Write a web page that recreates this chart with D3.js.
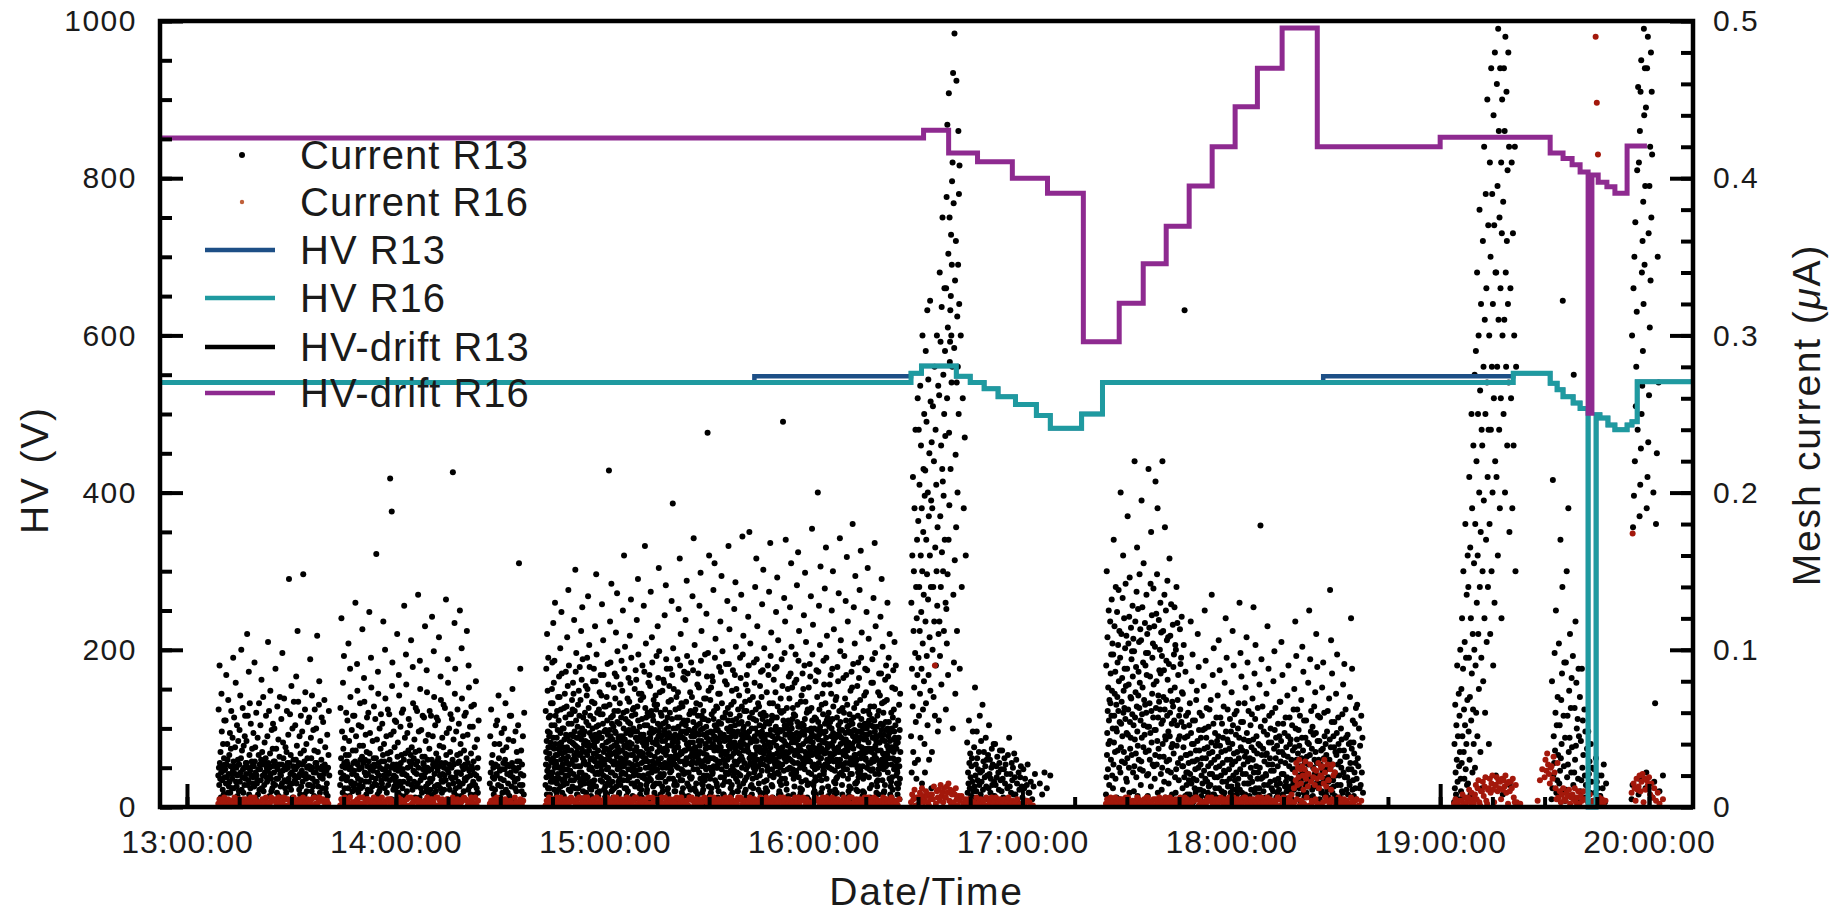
<!DOCTYPE html>
<html>
<head>
<meta charset="utf-8">
<script src="https://cdn.jsdelivr.net/npm/d3@7"></script>
<style>
body { margin: 0; background: #fff; }
text { font-family: "Liberation Sans", Arial, sans-serif; fill: #1a1a1a; }
</style>
</head>
<body>
<script>
var svgWidth = 1833;
var svgHeight = 912;
var plotLeft = 160, plotRight = 1693, plotTop = 21, plotBottom = 807;
var parseTime = d3.timeParse("%H:%M:%S");

var timeStart = "12:52:15";
var timeEnd = "20:12:38";
var hourTicks = ["13:00:00", "14:00:00", "15:00:00", "16:00:00", "17:00:00", "18:00:00", "19:00:00", "20:00:00"];
var hvTicks = [0, 200, 400, 600, 800, 1000];
var currentTicks = [0, 0.1, 0.2, 0.3, 0.4, 0.5];
var legendLabels = ["Current R13", "Current R16", "HV R13", "HV R16", "HV-drift R13", "HV-drift R16"];

// HV-drift R16, step changes [time, V]
var hvDriftR16 = [
  ["12:52:15", 851], ["16:31:36", 861], ["16:38:48", 832], ["16:47:06", 821], ["16:57:06", 800],
  ["17:07:12", 781], ["17:17:30", 592], ["17:27:48", 641], ["17:34:42", 691], ["17:41:18", 739],
  ["17:47:54", 790], ["17:54:30", 840], ["18:01:06", 891], ["18:07:30", 940], ["18:14:36", 991],
  ["18:24:42", 840], ["19:00:00", 852], ["19:31:36", 832], ["19:35:18", 825], ["19:37:54", 817],
  ["19:40:12", 808], ["19:42:30", 501], ["19:43:36", 804], ["19:45:24", 795], ["19:47:54", 789],
  ["19:50:12", 781], ["19:53:42", 841], ["19:59:24", 841]
];

// HV R16
var hvR16 = [
  ["12:52:15", 540], ["16:28:00", 552], ["16:31:00", 561], ["16:41:00", 548], ["16:45:00", 540],
  ["16:49:00", 532], ["16:53:00", 522], ["16:58:00", 512], ["17:04:00", 498], ["17:08:00", 482],
  ["17:17:00", 500], ["17:23:00", 540], ["19:21:00", 552], ["19:31:36", 539], ["19:33:36", 531],
  ["19:35:18", 522], ["19:38:12", 514], ["19:40:12", 507], ["19:42:30", 0], ["19:44:48", 499],
  ["19:45:54", 495], ["19:48:12", 486], ["19:50:12", 480], ["19:53:42", 486], ["19:55:06", 490],
  ["19:56:36", 541], ["20:12:38", 541]
];

// HV R13
var hvR13 = [
  ["12:52:15", 540], ["15:43:00", 548], ["16:28:00", 552], ["16:31:00", 561], ["16:41:00", 548],
  ["16:45:00", 540], ["16:49:00", 532], ["16:53:00", 522], ["16:58:00", 512], ["17:04:00", 498],
  ["17:08:00", 482], ["17:17:00", 500], ["17:23:00", 540], ["18:26:24", 548], ["19:21:00", 552],
  ["19:31:36", 539], ["19:33:36", 531], ["19:35:18", 522], ["19:38:12", 514], ["19:40:12", 507],
  ["19:42:30", 0], ["19:44:48", 499], ["19:45:54", 495], ["19:48:12", 486], ["19:50:12", 480],
  ["19:53:42", 486], ["19:55:06", 490], ["19:56:36", 541], ["20:12:38", 541]
];

// mesh current readings in nA, one row = 2 minutes of readings starting at HH:MM
var rowMinutes = 2;
var currentR13Rows = [
  "13:09 20 62 25 14 90 28 18 35 6 22 72 48 17 26 11 40 23 8 31 55 19 27",
  "13:11 24 55 15 84 27 19 40 30 9 68 21 13 33 16 47 9 26 37 61 21 12",
  "13:13 18 44 23 95 29 12 57 26 4 38 21 79 16 25 13 52 20 7 30 42 27 10",
  "13:15 27 49 16 71 22 31 100 11 36 19 63 24 9 39 25 14 45 58 18 28",
  "13:17 21 42 28 110 14 58 25 17 86 8 33 66 23 12 53 20 6 29 37 26 15",
  "13:19 19 47 26 13 92 29 38 22 5 60 20 15 17 44 8 24 33 66 11 27",
  "13:21 24 52 17 30 81 12 35 27 20 70 10 28 14 41 22 5 31 58 19 25",
  "13:23 16 45 23 105 28 19 61 25 7 34 74 21 18 10 49 26 12 37 53 15 29",
  "13:25 22 50 29 14 88 26 37 18 9 64 24 18 43 7 27 32 70 21 13",
  "13:27 20 56 27 15 98 23 41 31 6 69 17 26 12 38 24 9 35 61 16 28",
  "13:29 25 46 18 145 28 13 59 21 33 11 77 22 15 50 6 26 30 67 20 24",
  "13:31 17 52 24 30 83 15 39 26 112 4 67 19 28 11 45 21 8 34 58 13 27",
  "13:33 23 48 16 27 148 20 36 29 8 62 73 21 18 40 10 25 31 54 14 26",
  "13:35 19 57 26 14 94 24 44 31 10 71 25 18 13 49 22 7 36 62 16 28",
  "13:37 22 50 28 16 109 25 35 13 6 65 80 20 9 42 19 24 30 57 12 26",
  "13:39 18 54 24 21 68 27 38 12 9 23 15 46 7 25 33 61 20",
  "13:44 14 63 22 31 120 18 48 26 9 79 37 20 96 28 12 44 25 7 33 60 17 29",
  "13:46 19 55 27 12 104 33 42 24 7 88 70 25 16 15 49 21 10 36 58 28 13",
  "13:48 23 58 15 29 130 36 45 20 11 91 74 27 18 9 52 24 14 39 66 30 12",
  "13:50 17 51 25 32 113 13 39 28 6 82 67 22 30 16 46 20 8 35 57 26 11",
  "13:52 21 60 29 16 124 34 47 24 10 95 76 19 26 13 42 23 5 31 64 27 15",
  "13:54 26 56 18 31 161 14 43 22 8 86 72 28 20 10 50 25 12 37 59 17 29",
  "13:56 15 53 24 33 118 20 40 29 12 100 69 23 18 45 9 26 34 62 14 21",
  "13:58 22 59 30 17 209 35 46 25 5 188 77 92 18 27 11 48 20 13 38 55 24 16",
  "14:00 19 54 27 13 110 32 41 23 9 84 71 26 16 14 51 28 7 33 60 21 12",
  "14:02 24 62 16 30 128 21 44 34 7 97 78 20 10 47 25 15 36 56 18 29",
  "14:04 18 52 26 33 106 14 38 28 11 89 66 23 31 16 43 22 6 35 63 27 13",
  "14:06 21 61 29 15 135 25 48 36 6 93 75 17 12 49 20 9 32 58 24 28",
  "14:08 27 57 19 32 115 22 42 13 10 87 73 25 30 15 46 23 8 37 61 18 11",
  "14:10 16 58 24 30 121 18 45 27 8 99 70 21 13 52 26 10 34 57 29 14",
  "14:12 23 55 31 14 108 26 39 20 12 83 68 28 17 9 44 21 16 38 65 25 11",
  "14:14 20 63 28 17 132 33 47 24 5 94 79 22 14 50 27 11 35 59 19 26",
  "14:16 25 56 18 30 213 15 43 27 9 117 72 88 19 12 48 22 7 33 62 28 16",
  "14:18 22 53 29 13 125 34 40 21 7 101 69 26 15 45 24 10 36 58 18 27",
  "14:20 17 60 25 31 112 19 46 28 11 90 76 23 13 51 20 8 34 64 26 14",
  "14:22 24 51 16 29 65 21 38 14 8 80 20 12 43 25 9 31 55 18",
  "14:27 15 45 22 62 28 12 33 19 25 8 18 40 11 27 52 21",
  "14:29 20 55 26 14 71 31 40 23 6 18 13 47 24 9 36 28",
  "14:31 17 50 24 30 66 11 38 27 21 9 15 43 26 7 58 20",
  "14:33 22 58 13 28 75 19 42 25 5 16 12 48 23 10 35 29",
  "14:35 18 52 25 155 29 14 88 21 36 10 27 14 45 20 8 60",
  "14:43 14 61 27 35 88 19 42 8 110 23 31 74 48 12 95 38 26 57 21 45 34 12 47 8 58 22 41 16 66 29 3 52 19 75 38 92",
  "14:45 22 66 31 16 117 44 28 79 37 11 93 52 25 130 40 18 58 33 29 6 27 9 44 15 61 33 6 49 21 70 37 11 55 25 83 40",
  "14:47 18 70 36 25 101 47 13 62 30 41 124 22 85 34 9 50 27 38 16 31 14 50 7 63 24 43 18 72 35 4 57 20 86 46 28",
  "14:49 29 64 15 38 108 24 45 77 32 20 138 53 11 90 36 27 59 42 23 5 23 10 46 17 59 36 5 53 28 68 41 13 62 30 79 45",
  "14:51 21 72 40 17 119 33 48 61 26 12 151 39 86 30 55 98 19 44 35 8 38 8 51 19 65 26 44 12 74 33 6 58 22 89 47 16",
  "14:53 26 68 34 14 112 43 22 81 37 50 127 18 94 31 10 57 46 28 20 40 29 15 48 6 60 35 42 20 77 27 9 54 18 71 39 95",
  "14:55 33 75 19 41 134 27 52 63 15 36 103 24 89 47 12 58 30 39 25 7 25 11 45 16 67 31 5 50 23 80 43 14 56 34 88 40",
  "14:57 17 66 38 29 115 46 21 80 34 13 148 51 97 26 42 60 32 9 22 44 36 7 52 21 62 28 47 10 73 32 3 59 17 84 44 26",
  "14:59 31 71 23 44 129 16 39 59 28 53 106 20 84 35 11 64 48 27 37 6 30 13 49 9 64 37 41 19 70 24 8 55 15 91 46 33",
  "15:01 25 78 42 18 214 36 30 65 49 14 118 33 92 45 22 57 38 142 10 29 53 22 16 43 11 58 34 6 51 27 76 39 12 61 29 85 48",
  "15:03 20 69 35 47 111 27 13 83 41 32 136 54 99 24 38 61 16 44 28 8 35 9 53 18 66 25 45 14 78 31 4 57 21 93 42 27",
  "15:05 36 74 22 45 125 30 17 60 50 26 160 39 88 12 43 102 34 21 56 31 28 12 47 7 61 38 40 17 69 33 10 54 24 82 49 19",
  "15:07 28 67 41 19 109 37 53 79 24 46 132 33 95 15 40 58 27 49 23 7 62 33 15 50 20 63 26 5 48 22 75 36 13 59 30 87 44",
  "15:09 23 81 38 31 119 48 16 64 42 27 145 55 97 35 20 72 44 12 33 51 24 8 44 14 68 35 46 11 72 28 6 56 19 90 41 32",
  "15:11 34 70 20 46 128 29 39 86 52 18 166 43 63 31 25 104 57 14 40 9 37 11 52 16 60 29 43 21 79 34 3 58 25 84 47 18",
  "15:13 26 77 44 33 137 17 50 61 37 22 108 47 92 29 41 58 13 55 24 68 26 14 48 9 65 32 7 49 23 71 40 15 62 28 96 43",
  "15:15 40 65 24 35 115 53 19 82 45 30 152 48 99 15 38 73 27 51 21 8 60 31 6 45 19 58 36 42 13 74 25 10 53 20 81 46 35",
  "15:17 21 79 37 49 122 28 42 62 16 54 141 33 94 25 46 88 36 11 44 57 39 12 51 8 67 27 47 18 77 30 5 60 22 88 44 24",
  "15:19 32 68 45 23 131 39 56 84 27 41 193 18 101 50 30 75 43 14 36 10 27 16 46 10 62 33 4 50 26 70 38 14 57 31 94 41",
  "15:21 25 73 38 51 126 20 44 63 33 57 158 29 90 46 17 110 35 48 24 66 34 9 53 17 64 23 44 12 82 29 7 55 21 86 48 36",
  "15:23 43 81 27 36 119 52 22 67 47 31 144 40 96 15 55 85 28 39 49 7 22 13 49 6 59 37 41 19 73 32 11 61 18 92 45 27",
  "15:25 19 70 34 48 134 29 41 87 54 24 171 37 60 45 12 103 50 32 38 62 36 10 47 15 66 28 5 52 24 78 35 8 58 33 85 42",
  "15:27 30 76 46 22 128 39 53 65 35 18 149 49 93 27 42 112 58 15 26 9 56 29 14 50 11 61 34 46 20 69 26 3 56 17 97 40 30",
  "15:29 37 69 24 51 123 33 44 83 20 47 238 29 98 55 38 74 13 42 160 31 25 7 43 18 68 31 48 9 76 38 12 59 23 83 47 21",
  "15:31 22 80 40 31 138 56 26 61 45 36 155 52 95 17 43 107 30 49 25 64 38 15 52 13 63 25 6 49 28 72 36 10 54 29 89 44",
  "15:33 41 72 28 47 118 19 38 86 53 33 147 24 66 46 35 99 57 14 44 8 30 8 46 19 57 35 42 16 80 27 4 60 22 91 43 33",
  "15:35 26 78 35 50 131 30 44 63 21 55 166 39 91 48 16 113 32 42 37 59 23 12 51 7 65 32 45 14 74 39 9 55 26 87 48 20",
  "15:37 34 67 47 23 126 41 29 84 52 37 143 45 102 18 56 75 27 39 22 10 35 16 48 10 62 29 5 53 21 71 34 13 58 30 95 41",
  "15:39 20 82 38 46 135 32 54 64 25 43 172 30 97 49 15 109 36 51 40 61 28 9 44 17 67 36 47 11 78 24 6 61 19 84 46 37",
  "15:41 39 74 26 53 121 35 44 90 21 48 175 31 68 57 28 104 41 13 33 7 33 14 50 8 60 27 43 18 70 31 12 56 25 92 42 22",
  "15:43 28 79 45 33 140 50 24 62 38 55 158 19 94 42 36 115 47 30 26 66 26 11 47 15 64 38 4 52 20 77 35 9 59 28 86 45",
  "15:45 36 70 23 48 129 31 56 87 42 27 151 51 60 34 16 101 45 39 43 9 37 7 53 12 58 30 46 17 73 26 10 54 23 90 40 32",
  "15:47 24 84 41 35 137 53 29 66 46 20 168 38 96 49 32 111 55 14 30 58 24 13 45 6 66 33 41 19 81 29 5 57 21 88 49 27",
  "15:49 43 73 30 51 124 26 39 89 57 34 146 47 64 22 44 106 28 37 21 8 32 10 49 16 61 25 48 8 69 37 14 60 18 94 43 35",
  "15:51 27 77 38 49 245 33 55 61 23 42 133 31 98 52 18 118 46 40 170 35 29 15 52 11 63 34 6 50 24 75 39 7 55 31 83 46",
  "15:53 35 69 48 25 127 44 30 85 53 37 155 21 102 50 41 76 29 56 24 63 36 8 46 18 59 28 44 13 79 33 3 58 20 97 41 23",
  "15:55 22 81 36 47 141 34 54 65 28 43 162 51 93 19 39 112 32 45 38 7 25 12 51 9 67 36 47 16 71 27 11 53 26 85 48 30",
  "15:57 40 75 27 52 122 31 46 90 24 56 149 35 67 49 17 105 42 33 29 60 34 6 43 14 62 31 5 49 22 76 38 15 61 29 91 42",
  "15:59 29 83 44 36 134 50 21 63 47 33 177 55 97 26 41 116 38 14 45 9 27 16 50 10 57 24 45 19 80 35 8 56 17 87 44 33",
  "16:01 37 70 25 49 200 32 54 86 43 28 128 46 62 39 20 103 51 35 153 31 31 9 48 17 65 37 42 12 72 26 4 59 23 93 47 21",
  "16:03 23 78 41 34 139 53 27 66 48 36 165 44 95 18 55 109 30 40 26 57 38 13 53 7 60 29 6 51 25 78 34 10 54 32 84 40",
  "16:05 45 72 31 50 125 24 39 88 56 33 150 47 64 29 42 113 16 37 34 8 23 11 44 15 68 35 46 18 70 30 9 57 19 89 45 28",
  "16:07 26 80 38 52 136 35 46 61 21 49 171 30 99 54 40 106 27 44 22 62 35 14 49 8 63 26 41 20 82 33 5 60 24 96 43 36",
  "16:09 34 69 47 28 131 43 55 84 32 39 159 24 65 51 36 118 18 48 41 10 28 7 52 13 59 38 4 47 21 74 31 12 55 27 86 48",
  "16:11 21 76 40 53 180 30 45 91 37 57 127 27 63 49 33 104 42 15 147 28 33 15 45 11 66 30 48 16 77 25 10 58 22 92 42 19",
  "16:13 39 82 26 48 138 34 52 68 23 44 163 31 95 56 38 111 47 20 35 7 26 10 50 18 61 34 43 9 71 37 6 53 20 88 46 31",
  "16:15 30 73 43 35 124 50 25 87 46 37 152 53 61 28 41 107 19 55 24 59 37 12 47 6 64 28 5 52 23 79 35 14 56 30 94 44",
  "16:17 24 79 37 51 133 29 44 64 55 33 168 48 98 21 39 115 45 31 42 9 30 16 51 13 58 36 45 17 73 24 8 61 21 85 41 27",
  "16:19 41 71 28 46 121 36 53 85 25 49 145 30 66 43 17 102 52 34 27 60 24 9 46 10 67 32 42 14 81 29 3 54 26 90 49 34",
  "16:21 27 68 39 33 130 50 22 83 45 37 95 54 31 47 18 110 42 38 8 36 13 48 16 60 27 6 50 19 76 38 11 57 31 87 43",
  "16:23 35 62 24 48 105 30 44 75 52 26 90 40 20 37 29 15 23 22 8 41 12 55 30 44 15 65 26 5 49 18 72 35",
  "16:28 45 130 22 88 160 64 210 35 112 150 76 190 28 98 240 54 140 18 120 170 84 260",
  "16:30 30 182 95 240 58 140 205 112 72 268 44 160 230 124 88 190 15 150 300 104 62 175 215 135 80 250 40 198",
  "16:32 22 214 118 290 66 170 245 96 148 316 52 200 132 272 84 185 30 225 108 160 322 74 258 140 195 12 232",
  "16:34 35 190 100 255 140 70 220 118 280 58 165 240 90 205 150 300 128 178 48 268 110",
  "16:36 55 262 118 340 96 185 296 140 230 78 318 162 215 375 207 150 275 198 112 250 330 170 290 236 130",
  "16:38 62 330 126 388 104 260 434 148 305 84 352 170 454 238 192 375 283 296 316 215 325 364 300 270 345 398 280 410",
  "16:40 50 467 135 384 92 292 492 157 335 72 224 360 178 462 270 112 312 200 280 345 430 250 390 320 408",
  "16:42 88 300 140 260 190 235 160",
  "16:44 4 41 9 22 15 55 28 12 34 19 7 26 31 16 48 10",
  "16:46 6 38 13 76 20 27 10 48 31 17 24 3 35 14 58 22",
  "16:48 8 42 16 23 65 11 29 35 5 19 26 44 13 30 20",
  "16:50 5 33 12 52 21 30 9 18 25 37 14 27 7 40 16",
  "16:52 7 40 14 26 19 32 4 22 11 28 36 17 24",
  "16:54 10 36 18 6 24 31 15 27 3 21 12 33",
  "16:56 5 44 13 21 9 28 17 25 8 34 19",
  "16:58 8 30 15 3 22 11 19 26 13",
  "17:00 6 24 12 18 4 14 27 9",
  "17:02 9 16 5 13 21",
  "17:05 15 8 22",
  "17:07 12 20",
  "17:24 8 90 19 150 33 47 108 61 24 76 40 125 55 14 68 3 42 118 66 85 30 97 58 132 74 20 104 50",
  "17:26 12 97 27 170 41 58 115 72 35 86 18 140 50 65 6 48 124 70 92 36 103 61 138 80 25 112 54",
  "17:28 5 95 22 200 38 53 110 67 29 82 45 133 11 160 60 74 35 120 63 88 28 101 56 142 77 18 109 47",
  "17:30 16 88 31 185 46 62 104 78 25 121 9 146 54 37 70 44 114 69 94 33 99 59 128 83 22 107 52",
  "17:32 10 99 26 220 43 57 118 73 34 89 19 137 64 165 48 7 39 126 71 86 30 105 63 148 79 24 113 55",
  "17:34 14 106 29 195 44 59 127 76 23 92 38 155 52 68 4 46 117 65 90 35 98 60 135 84 20 110 51",
  "17:36 7 98 21 215 36 51 114 66 30 83 47 142 13 175 61 41 122 72 95 27 104 57 139 78 26 115 49",
  "17:38 18 102 33 207 49 63 123 80 27 148 42 190 9 57 71 37 119 67 87 32 100 62 130 85 21 111 53",
  "17:40 11 96 25 220 40 55 112 70 32 87 16 135 62 178 45 6 43 125 68 93 29 106 58 144 81 23 108 48",
  "17:42 15 91 30 158 45 60 109 74 22 129 38 53 8 67 40 116 64 89 34 97 55 127 76 19 103",
  "17:44 9 100 24 140 39 52 117 68 28 84 43 17 58 5 45 113 62 91 31 95 54 121 73 26",
  "17:46 12 72 26 38 103 51 19 316 44 7 86 33 58 22 14 33 8 45 22 60 5 28 17 52",
  "17:48 8 66 21 34 118 47 15 80 40 29 97 55 3 18 40 6 29 12 55 24 9 36 68",
  "17:50 17 74 30 42 110 11 25 89 49 36 60 5 11 27 44 7 20 58 31 15 49 3",
  "17:52 10 77 23 37 125 50 18 93 31 44 63 6 16 38 9 26 51 13 34 62 21 5",
  "17:54 14 68 28 41 135 21 35 84 8 53 101 8 30 19 47 12 39 25 57 6 42",
  "17:56 19 71 32 45 106 12 26 87 39 57 4 20 35 10 53 16 28 44 7 64 23",
  "17:58 9 79 22 36 120 48 16 95 30 43 62 13 41 5 24 37 18 56 30 9 48",
  "18:00 13 73 27 40 112 52 20 90 34 7 59 17 29 11 46 22 61 8 35 14 50",
  "18:02 18 66 31 44 130 11 24 98 38 54 83 5 9 36 21 54 6 27 43 15 66 32",
  "18:04 8 76 21 35 108 47 15 92 29 42 61 15 42 7 31 19 52 25 11 38 59",
  "18:06 16 69 30 43 127 22 36 85 9 56 103 12 26 45 5 34 18 63 22 40 8",
  "18:08 12 78 25 39 179 51 18 94 33 5 64 19 37 10 48 14 29 55 6 33 21",
  "18:10 20 72 34 46 115 14 27 88 41 58 7 31 16 50 23 41 12 60 27 4",
  "18:12 10 80 23 37 99 49 17 63 31 44 6 14 39 9 26 53 18 35 11 45 67",
  "18:14 15 67 29 42 105 21 35 84 8 53 21 33 6 47 13 28 57 16 38 10",
  "18:16 19 71 32 45 90 13 26 57 40 10 43 18 30 5 52 24 36 15 62",
  "18:18 11 75 24 38 118 50 16 96 30 43 62 16 34 8 49 20 39 12 58 26 4",
  "18:20 17 68 31 44 102 22 36 86 9 55 6 28 14 44 22 55 9 32 17 41",
  "18:22 13 79 27 40 125 19 33 94 6 48 61 18 37 11 51 7 25 46 13 64 30",
  "18:24 21 73 35 47 110 15 28 89 42 58 12 30 20 42 5 57 27 15 36 9",
  "18:26 10 76 23 37 92 18 31 60 45 7 15 40 8 33 24 48 11 61 19 6",
  "18:28 16 69 30 43 138 25 38 106 12 54 85 9 27 17 45 13 38 54 22 7 35",
  "18:30 20 72 33 47 97 14 27 57 40 4 20 36 6 29 14 50 25 43 10 59",
  "18:32 9 78 22 36 91 19 32 62 44 11 32 19 46 8 24 40 16",
  "18:34 14 70 28 41 120 24 37 88 11 55 17 41 7 34 22 53 12 28 63 5",
  "18:36 18 65 31 26 50 12 39 14 58 22 44 9",
  "19:04 3 40 12 65 22 8 52 30 90 16 45 5 72 26 58 35 100 18",
  "19:06 10 75 28 120 45 6 88 150 35 62 18 105 52 180 24 95 40 135 14 68 160",
  "19:08 15 140 48 95 210 30 70 165 8 120 55 250 85 190 22 110 62 230 40 155 100 275",
  "19:10 25 180 90 290 60 220 130 340 45 160 250 110 300 75 200 380 140 265 35 175 320 95 240",
  "19:12 12 230 150 360 80 280 195 420 120 310 60 250 390 170 330 105 270 450 210 140 370 240",
  "19:14 40 300 180 410 110 350 240 470 150 280 390 200 320 90 440 260 370 130 480 220 340",
  "19:16 20 340 210 460 280 395 160 495 310 430 240 375 190 470 330 260 410 120 365 450 300",
  "19:18 8 385 250 470 310 430 200 490 340 280 455 360 230 405 320 480 270 420 175",
  "19:20 14 330 260 410 190 365 230 300 420 150 280",
  "19:32 5 80 12 208 20 45 28 98 36 60 125 9 52 17 70 33",
  "19:34 8 104 15 52 23 170 31 68 40 85 140 322 11 58 26 92 4 44",
  "19:36 4 92 11 150 19 58 27 190 35 74 44 110 7 63 22 82 38",
  "19:38 7 96 14 275 22 63 30 118 39 79 50 3 56 18 88 45",
  "19:40 3 70 10 42 17 88 25 55 33 6 62 20 48 14",
  "19:42 6 37 13 48 21 29 9 40 16 25 3",
  "19:44 4 24 9 31 16 12 20 7",
  "19:46 7 20 12 27 3 15",
  "19:55 5 300 14 178 330 198 350 220 372 255 280 315 405 240 458",
  "19:57 8 410 18 185 430 205 455 228 475 250 340 268 360 290 385 320 495 440 345 470 395",
  "19:59 12 445 22 190 470 210 490 232 365 262 395 305 420 335 480 375 455 415",
  "20:01 6 200 16 66 180 225 350 270",
  "20:03 10 20"
];

var currentR16Rows = [
  "13:09 2 5 1 4 3 6", "13:11 3 1 5 2 4", "13:13 4 2 6 1 3 5", "13:15 1 4 3 5 2", "13:17 5 2 1 3 6 4",
  "13:19 2 6 4 1 3", "13:21 3 1 5 4 2 6", "13:23 1 3 2 6 4", "13:25 4 5 1 2 6 3", "13:27 2 3 6 1 5",
  "13:29 5 1 3 4 2 6", "13:31 1 4 2 5 3", "13:33 3 6 1 2 4 5", "13:35 4 2 5 1 6", "13:37 2 1 3 6 5 4",
  "13:39 5 3 1 4 2",
  "13:44 1 5 3 2 6 4", "13:46 4 2 6 1 3", "13:48 3 1 4 5 2 6", "13:50 2 6 1 3 5", "13:52 5 3 2 4 1 6",
  "13:54 1 4 5 2 3", "13:56 6 2 1 3 4 5", "13:58 3 5 4 1 2", "14:00 2 1 6 4 5 3", "14:02 4 3 1 5 6",
  "14:04 1 6 2 3 4 5", "14:06 5 2 4 1 3", "14:08 3 4 1 6 2 5", "14:10 2 5 3 1 6", "14:12 6 1 4 2 5 3",
  "14:14 1 3 5 4 2", "14:16 4 6 2 1 3 5", "14:18 2 1 3 5 6", "14:20 5 4 1 3 2 6", "14:22 3 2 6 1 4",
  "14:27 2 4 1 5 3", "14:29 6 1 3 2 4", "14:31 1 5 4 3 2", "14:33 4 2 1 6 3", "14:35 3 1 5 2 4",
  "14:43 1 4 2 6 3 5", "14:45 5 2 3 1 6 4", "14:47 3 6 1 4 2 5", "14:49 2 1 5 3 6 4", "14:51 4 3 1 5 2 6",
  "14:53 1 5 2 4 6 3", "14:55 6 2 4 1 3 5", "14:57 3 1 6 2 5 4", "14:59 2 4 1 5 3 6", "15:01 5 1 3 2 4 6",
  "15:03 1 6 4 3 2 5", "15:05 4 2 1 5 6 3", "15:07 2 5 3 1 4 6", "15:09 6 1 2 4 5 3", "15:11 3 4 5 1 2 6",
  "15:13 1 2 6 3 5 4", "15:15 5 3 1 4 6 2", "15:17 2 6 4 1 3 5", "15:19 4 1 3 5 2 6", "15:21 1 5 2 6 4 3",
  "15:23 3 2 4 1 6 5", "15:25 6 4 1 2 5 3", "15:27 2 1 5 3 4 6", "15:29 5 3 2 1 6 4", "15:31 1 6 3 4 2 5",
  "15:33 4 2 5 1 3 6", "15:35 2 4 1 6 5 3", "15:37 3 1 4 2 6 5", "15:39 6 5 2 1 4 3", "15:41 1 3 6 4 2 5",
  "15:43 5 2 1 3 4 6", "15:45 2 4 5 1 6 3", "15:47 4 1 3 6 2 5", "15:49 1 5 2 3 6 4", "15:51 3 6 4 1 5 2",
  "15:53 5 1 2 4 3 6", "15:55 2 3 6 1 4 5", "15:57 6 4 1 5 2 3", "15:59 1 2 3 4 6 5", "16:01 4 5 1 2 3 6",
  "16:03 3 1 6 5 2 4", "16:05 2 6 4 1 5 3", "16:07 5 3 1 2 4 6", "16:09 1 4 5 3 6 2", "16:11 6 2 3 1 5 4",
  "16:13 2 5 1 4 3 6", "16:15 4 1 6 2 5 3", "16:17 3 6 2 5 1 4", "16:19 1 3 4 6 2 5", "16:21 5 2 1 3 6 4",
  "16:23 2 4 3 1 5",
  "16:28 3 8 5 11 1 6", "16:30 6 2 9 4 12 7 3", "16:32 4 10 7 3 1 8 5", "16:34 8 5 13 90 2 10 6",
  "16:36 11 4 14 7 9 3 12 6", "16:38 6 13 9 15 4 11 2 8", "16:40 10 3 8 12 5 1 7", "16:42 4 7 2 5",
  "16:44 2 5 1 4 3", "16:46 3 1 6 2 4", "16:48 5 2 4 1 6", "16:50 1 4 3 6 2", "16:52 4 6 1 3 5",
  "16:54 2 3 5 1 4", "16:56 6 1 2 4 3", "16:58 3 5 1 2", "17:00 1 2 4", "17:02 3 1",
  "17:24 2 5 1 4 6 3", "17:26 4 1 6 3 2 5", "17:28 1 3 5 2 4 6", "17:30 5 6 2 1 3 4", "17:32 3 1 4 6 5 2",
  "17:34 2 4 1 5 3 6", "17:36 6 2 3 1 4 5", "17:38 1 5 4 2 6 3", "17:40 4 3 1 6 2 5", "17:42 2 6 5 1 3 4",
  "17:44 5 1 2 3 6 4", "17:46 3 4 6 1 5 2", "17:48 1 2 3 5 4 6", "17:50 6 5 1 4 2 3", "17:52 2 1 4 3 6 5",
  "17:54 4 6 2 1 3 5", "17:56 1 3 5 6 4 2", "17:58 5 2 1 3 6 4", "18:00 3 4 6 2 1 5", "18:02 2 1 5 4 3 6",
  "18:04 6 3 1 2 5 4", "18:06 1 5 4 3 2 6", "18:08 4 2 6 1 3 5", "18:10 3 6 1 5 4 2", "18:12 2 4 3 1 6 5",
  "18:14 5 1 2 6 3 4", "18:16 1 3 6 4 8 2",
  "18:18 12 3 22 17 28 5 14 25 19 30 1 24", "18:20 15 4 26 20 11 2 24 29 18 6 21",
  "18:22 13 21 1 27 16 4 3 19 24", "18:24 14 5 23 18 2 28 12 1 20 25", "18:26 19 26 3 15 30 22 6 13 4 27 17",
  "18:28 17 2 24 11 5 27 20 3 22", "18:30 4 1 6 2 5", "18:32 3 5 1 4 2", "18:34 2 6 3 1 4", "18:36 5 1 4",
  "19:04 2 5 3 1 4", "19:06 4 8 2 6 3", "19:08 6 11 3 9 5 2", "19:10 8 14 5 12 17 3 1 10",
  "19:12 10 16 7 13 19 4 2 11", "19:14 12 18 9 15 20 11 3 14", "19:16 14 19 10 17 12 16 5 18",
  "19:18 11 17 13 20 9 15 2 16", "19:20 10 16 12 18 6 3 14", "19:22 3 2",
  "19:28 4 17 24", "19:30 19 30 23 34 27 21 15 25", "19:32 26 18 32 22 12 5 28",
  "19:34 6 10 3 8 12 5", "19:36 4 9 7 11 2 6", "19:38 8 5 12 3 6 10", "19:40 2 7 4 10 5", "19:42 5 3 8 2",
  "19:44 4 2 490 448 415 6", "19:46 3 5 1 4",
  "19:55 9 174 15 12 4 18 11", "19:57 13 20 10 16 21 3 18", "19:59 11 17 14 19 8 15", "20:01 6 12 4 9", "20:03 2 5"
];

function rowsToPoints(rows) {
  var pts = [];
  rows.forEach(function (row) {
    var parts = row.split(" ");
    var t0 = parseTime(parts[0] + ":00");
    var vals = parts.slice(1).map(Number);
    vals.forEach(function (v, i) {
      pts.push({ t: new Date(t0.getTime() + i * rowMinutes * 60000 / vals.length), c: v / 1000 });
    });
  });
  return pts;
}

var svg = d3.select("body")
  .append("svg")
  .attr("width", svgWidth)
  .attr("height", svgHeight);

var x = d3.scaleTime()
  .domain([parseTime(timeStart), parseTime(timeEnd)])
  .range([plotLeft, plotRight]);
var yHV = d3.scaleLinear().domain([0, 1000]).range([plotBottom, plotTop]);
var yCur = d3.scaleLinear().domain([0, 0.5]).range([plotBottom, plotTop]);

// scatter: currents on right axis
svg.append("g").selectAll("circle")
  .data(rowsToPoints(currentR13Rows))
  .enter()
  .append("circle")
  .attr("cx", function (d) { return x(d.t); })
  .attr("cy", function (d) { return yCur(d.c); })
  .attr("r", 3)
  .attr("fill", "#000");

svg.append("g").selectAll("circle")
  .data(rowsToPoints(currentR16Rows))
  .enter()
  .append("circle")
  .attr("cx", function (d) { return x(d.t); })
  .attr("cy", function (d) { return yCur(d.c); })
  .attr("r", 3)
  .attr("fill", "#a3180b");

// HV step lines
var hvLine = d3.line()
  .x(function (d) { return x(parseTime(d[0])); })
  .y(function (d) { return yHV(d[1]); })
  .curve(d3.curveStepAfter);

svg.append("path").datum(hvR13).attr("d", hvLine)
  .attr("fill", "none").attr("stroke", "#1d4f86").attr("stroke-width", 4.5);
svg.append("path").datum(hvR16).attr("d", hvLine)
  .attr("fill", "none").attr("stroke", "#1f9aa0").attr("stroke-width", 5);
svg.append("path").datum(hvDriftR16).attr("d", hvLine)
  .attr("fill", "none").attr("stroke", "#8e2a90").attr("stroke-width", 5);

// axes
function styleAxis(g) {
  g.select(".domain").remove();
  g.selectAll(".tick line").attr("stroke", "#000").attr("stroke-width", 4);
}

svg.append("g")
  .attr("transform", "translate(" + plotLeft + ",0)")
  .call(d3.axisLeft(yHV).tickValues(d3.range(0, 1001, 50)).tickSizeInner(-12).tickSizeOuter(0).tickFormat(""))
  .call(styleAxis);
svg.append("g")
  .attr("transform", "translate(" + plotLeft + ",0)")
  .call(d3.axisLeft(yHV).tickValues(hvTicks).tickSizeInner(-23).tickSizeOuter(0).tickPadding(23)
    .tickFormat(d3.format("d")))
  .call(styleAxis)
  .selectAll("text").style("font-size", "30px").attr("letter-spacing", "1.5px");

svg.append("g")
  .attr("transform", "translate(" + plotRight + ",0)")
  .call(d3.axisRight(yCur).tickValues(d3.range(0, 0.501, 0.02)).tickSizeInner(-12).tickSizeOuter(0).tickFormat(""))
  .call(styleAxis);
svg.append("g")
  .attr("transform", "translate(" + plotRight + ",0)")
  .call(d3.axisRight(yCur).tickValues(currentTicks).tickSizeInner(-23).tickSizeOuter(0).tickPadding(20)
    .tickFormat(function (d) { return d === 0 ? "0" : d3.format(".1f")(d); }))
  .call(styleAxis)
  .selectAll("text").style("font-size", "30px").attr("letter-spacing", "1.5px");

svg.append("g")
  .attr("transform", "translate(0," + plotBottom + ")")
  .call(d3.axisBottom(x).ticks(d3.timeMinute.every(15)).tickSizeInner(-10).tickSizeOuter(0).tickFormat(""))
  .call(styleAxis);
svg.append("g")
  .attr("transform", "translate(0," + plotBottom + ")")
  .call(d3.axisBottom(x).tickValues(hourTicks.map(parseTime)).tickSizeInner(-23).tickSizeOuter(0)
    .tickPadding(23).tickFormat(d3.timeFormat("%H:%M:%S")))
  .call(styleAxis)
  .selectAll("text").style("font-size", "32px").attr("letter-spacing", "1px");

svg.append("rect")
  .attr("x", plotLeft).attr("y", plotTop)
  .attr("width", plotRight - plotLeft).attr("height", plotBottom - plotTop)
  .attr("fill", "none").attr("stroke", "#000").attr("stroke-width", 4.5);

// axis titles
svg.append("text")
  .attr("x", (plotLeft + plotRight) / 2).attr("y", 905)
  .attr("text-anchor", "middle").style("font-size", "39px").attr("letter-spacing", "1.8px")
  .text("Date/Time");

svg.append("text")
  .attr("transform", "translate(48,470) rotate(-90)")
  .attr("text-anchor", "middle").style("font-size", "39px").attr("letter-spacing", "1.8px")
  .text("HV (V)");

var rightTitle = svg.append("text")
  .attr("transform", "translate(1820,415) rotate(-90)")
  .attr("text-anchor", "middle").style("font-size", "39px").attr("letter-spacing", "1.8px");
rightTitle.append("tspan").text("Mesh current (");
rightTitle.append("tspan").style("font-style", "italic").text("\u03bc");
rightTitle.append("tspan").text("A)");

// legend
var legendY = [155, 202, 250, 298, 347, 393];
var legend = svg.append("g");
legend.append("circle").attr("cx", 242).attr("cy", legendY[0]).attr("r", 3).attr("fill", "#000");
legend.append("circle").attr("cx", 242).attr("cy", legendY[1]).attr("r", 2.2).attr("fill", "#c0603a");
var legendColors = ["#1d4f86", "#1f9aa0", "#000", "#8e2a90"];
legendColors.forEach(function (c, i) {
  legend.append("line")
    .attr("x1", 205).attr("x2", 275)
    .attr("y1", legendY[i + 2]).attr("y2", legendY[i + 2])
    .attr("stroke", c).attr("stroke-width", 4.5);
});
legend.selectAll("text")
  .data(legendLabels)
  .enter()
  .append("text")
  .attr("x", 300)
  .attr("y", function (d, i) { return legendY[i] + 14; })
  .style("font-size", "40px")
  .attr("letter-spacing", "1px")
  .text(function (d) { return d; });
</script>
</body>
</html>
